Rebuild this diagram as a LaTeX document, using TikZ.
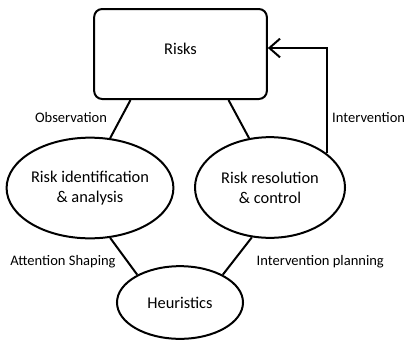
\documentclass[tikz,border=0pt]{standalone}
\usepackage{fontspec}
\setmainfont{Carlito}
\usetikzlibrary{arrows.meta,shapes.geometric}
\tikzset{
    % Define box and ellipse styles
    box/.style={
           draw,
           rounded corners=6pt,
           line width=1.5pt,
           minimum width=129.5pt,
           minimum height=67.5pt,
           font=\fontsize{12.3}{14}\selectfont},
    stage/.style={
           draw,
           ellipse,
           line width=1.5pt,
           inner sep=0pt,
           minimum width=112.5pt,
           minimum height=75.5pt,
           align=center,
           font=\fontsize{12.3}{15}\selectfont},
    % Define link style
    link/.style={
           line width=1.5pt},
    lbl/.style={
           font=\fontsize{10.9}{13}\selectfont}
}
\begin{document}
\begin{tikzpicture}[x=0.75pt,y=-0.75pt]
\useasboundingbox (0,0) rectangle (406,340);

\node[box, text depth=7.5pt] (risks) at (180.5,54) {Risks};
\node[stage] (ident) at (90,188) {Risk identification\\\& analysis};
\node[stage] (resol) at (270,187.5) {Risk resolution\\\& control};
\node[stage, minimum width=94.5pt, minimum height=54.5pt] (heur) at (180,302.5) {Heuristics};

\draw[link] ([xshift=-37.5pt]risks.south) -- (ident.68);
\draw[link] ([xshift=36pt]risks.south) -- (resol.113);
\draw[link] (ident.-68) -- (heur.147);
\draw[link] (resol.-110) -- (heur.33);
\draw[link, -{Straight Barb[length=8pt,width=14pt,line width=1.5pt]}]
    (resol.31) |- ([yshift=4.5pt]risks.east);

\node[lbl] (obs) at (71,118) {Observation};
\node[lbl, anchor=east, inner xsep=0.5pt] (interv) at (406,118) {Intervention};
\node[lbl] (attn) at (63,262) {Attention Shaping};
\node[lbl, anchor=west] (plan) at (252,262) {Intervention planning};

\end{tikzpicture}
\end{document}
